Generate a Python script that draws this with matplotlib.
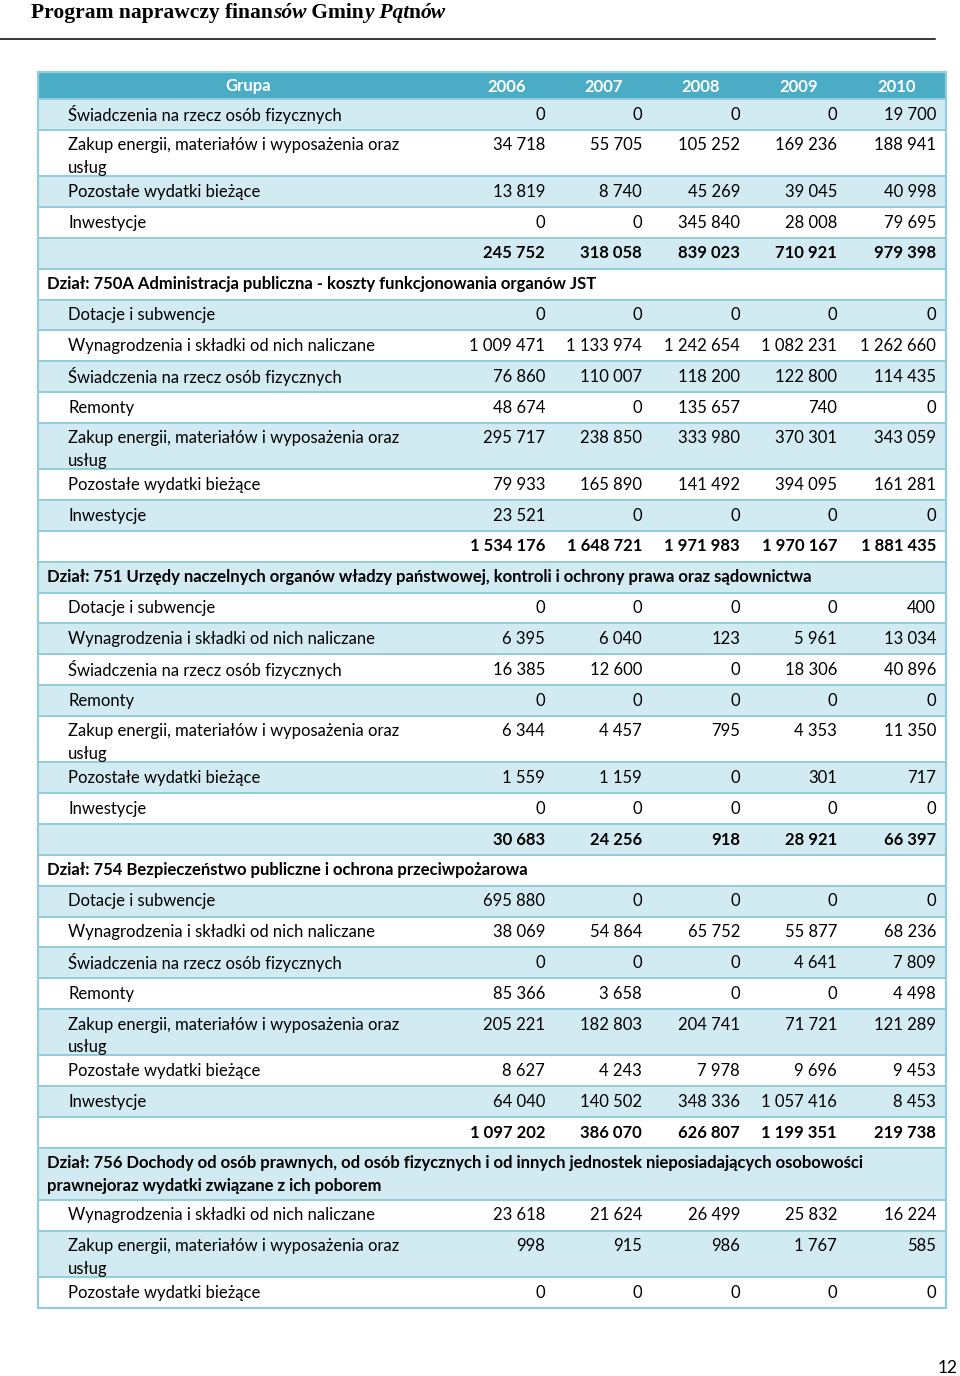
import textwrap
import matplotlib
matplotlib.use("Agg")
import matplotlib.pyplot as plt
from matplotlib.patches import Rectangle

# ---- data ----
years = ["2006", "2007", "2008", "2009", "2010"]

sec0_labels = ["Świadczenia na rzecz osób fizycznych",
               "Zakup energii, materiałów i wyposażenia oraz usług",
               "Pozostałe wydatki bieżące",
               "Inwestycje"]
sec0_values = [[0, 0, 0, 0, 19700],
               [34718, 55705, 105252, 169236, 188941],
               [13819, 8740, 45269, 39045, 40998],
               [0, 0, 345840, 28008, 79695]]
sec0_total = [245752, 318058, 839023, 710921, 979398]

d750_title = "Dział: 750A Administracja publiczna - koszty funkcjonowania organów JST"
d750_labels = ["Dotacje i subwencje",
               "Wynagrodzenia i składki od nich naliczane",
               "Świadczenia na rzecz osób fizycznych",
               "Remonty",
               "Zakup energii, materiałów i wyposażenia oraz usług",
               "Pozostałe wydatki bieżące",
               "Inwestycje"]
d750_values = [[0, 0, 0, 0, 0],
               [1009471, 1133974, 1242654, 1082231, 1262660],
               [76860, 110007, 118200, 122800, 114435],
               [48674, 0, 135657, 740, 0],
               [295717, 238850, 333980, 370301, 343059],
               [79933, 165890, 141492, 394095, 161281],
               [23521, 0, 0, 0, 0]]
d750_total = [1534176, 1648721, 1971983, 1970167, 1881435]

d751_title = ("Dział: 751 Urzędy naczelnych organów władzy państwowej, "
              "kontroli i ochrony prawa oraz sądownictwa")
d751_labels = d750_labels
d751_values = [[0, 0, 0, 0, 400],
               [6395, 6040, 123, 5961, 13034],
               [16385, 12600, 0, 18306, 40896],
               [0, 0, 0, 0, 0],
               [6344, 4457, 795, 4353, 11350],
               [1559, 1159, 0, 301, 717],
               [0, 0, 0, 0, 0]]
d751_total = [30683, 24256, 918, 28921, 66397]

d754_title = "Dział: 754 Bezpieczeństwo publiczne i ochrona przeciwpożarowa"
d754_labels = d750_labels
d754_values = [[695880, 0, 0, 0, 0],
               [38069, 54864, 65752, 55877, 68236],
               [0, 0, 0, 4641, 7809],
               [85366, 3658, 0, 0, 4498],
               [205221, 182803, 204741, 71721, 121289],
               [8627, 4243, 7978, 9696, 9453],
               [64040, 140502, 348336, 1057416, 8453]]
d754_total = [1097202, 386070, 626807, 1199351, 219738]

d756_title = ("Dział: 756 Dochody od osób prawnych, od osób fizycznych i od innych "
              "jednostek nieposiadających osobowości prawnejoraz wydatki związane z ich poborem")
d756_labels = ["Wynagrodzenia i składki od nich naliczane",
               "Zakup energii, materiałów i wyposażenia oraz usług",
               "Pozostałe wydatki bieżące"]
d756_values = [[23618, 21624, 26499, 25832, 16224],
               [998, 915, 986, 1767, 585],
               [0, 0, 0, 0, 0]]

# ---- build rows: (kind, text, values) ----
rows = []
def add_section(title, labels, values, total):
    if title:
        rows.append(("head", title, None))
    for lab, v in zip(labels, values):
        rows.append(("item", lab, v))
    if total is not None:
        rows.append(("total", "", total))

add_section(None, sec0_labels, sec0_values, sec0_total)
add_section(d750_title, d750_labels, d750_values, d750_total)
add_section(d751_title, d751_labels, d751_values, d751_total)
add_section(d754_title, d754_labels, d754_values, d754_total)
add_section(d756_title, d756_labels, d756_values, None)

def fmt(n):
    return f"{n:,}".replace(",", " ")

# ---- figure ----
W, H = 960, 1376
fig = plt.figure(figsize=(W / 100, H / 100), dpi=100)
ax = fig.add_axes([0, 0, 1, 1])
ax.set_xlim(0, W)
ax.set_ylim(H, 0)
ax.axis("off")

FONT = "Lato"
FS = 12
header_c = "#4BACC6"
light_c = "#D2EAF1"
line_c = "#92CDDC"

# title with mixed upright / italic pieces
pieces = [("Program naprawczy finan", "normal"), ("sów", "italic"), (" Gmin", "normal"),
          ("y", "italic"), (" Pąt", "italic"), ("n", "normal"), ("ów", "italic")]
fig.canvas.draw()
r = fig.canvas.get_renderer()
x = 31
for txt, st in pieces:
    t = ax.text(x, 13, txt, fontfamily="Liberation Serif", fontweight="bold", style=st,
                fontsize=15.5, va="center", ha="left")
    bb = t.get_window_extent(renderer=r)
    x += bb.width
ax.plot([0, 935], [39, 39], color="black", lw=1.1)

# table geometry
left, right = 38, 946
col_edges = [38, 459, 555, 652, 750, 847, 946]
top = 72
head_h = 27
single_h = 30.83
extra_item = 15.6
extra_head = 21.2
line_gap = 22.6

ax.add_patch(Rectangle((left, top), right - left, head_h, color=header_c, lw=0))
ax.text((col_edges[0] + col_edges[1]) / 2, top + head_h / 2 + 1, "Grupa", color="white",
        fontweight="bold", fontfamily=FONT, fontsize=FS, ha="center", va="center")
for i, yr in enumerate(years):
    ax.text((col_edges[i + 1] + col_edges[i + 2]) / 2, top + head_h / 2 + 1, yr, color="white",
            fontweight="bold", fontfamily=FONT, fontsize=FS, ha="center", va="center")

y = top + head_h
for k, (kind, text, vals) in enumerate(rows):
    if kind == "head":
        lines = textwrap.wrap(text, 105)
        h = single_h + (len(lines) - 1) * extra_head
    elif kind == "item":
        lines = textwrap.wrap(text, 45)
        h = single_h + (len(lines) - 1) * extra_item
    else:
        lines = [""]
        h = single_h
    bg = light_c if k % 2 == 0 else "white"
    ax.add_patch(Rectangle((left, y), right - left, h, facecolor=bg, lw=0))
    ax.plot([left, right], [y, y], color=line_c, lw=1.4, solid_capstyle="butt")
    bold = kind in ("head", "total")
    tx = 47 if kind == "head" else 68
    for j, ln in enumerate(lines):
        ax.text(tx, y + 15.5 + j * line_gap, ln, fontfamily=FONT, fontsize=FS,
                fontweight="bold" if bold else "normal", color="black", va="center", ha="left")
    if vals is not None:
        for i, v in enumerate(vals):
            ax.text(col_edges[i + 2] - 10, y + 15.5, fmt(v), fontfamily=FONT, fontsize=FS,
                    fontweight="bold" if bold else "normal", color="black",
                    va="center", ha="right")
    y += h

# outer border
ax.add_patch(Rectangle((left, top), right - left, y - top, fill=False, edgecolor=line_c, lw=1.6))

ax.text(948, 1368, "12", fontfamily=FONT, fontsize=12.5, ha="center", va="center")

fig.savefig("out.png", dpi=100)
